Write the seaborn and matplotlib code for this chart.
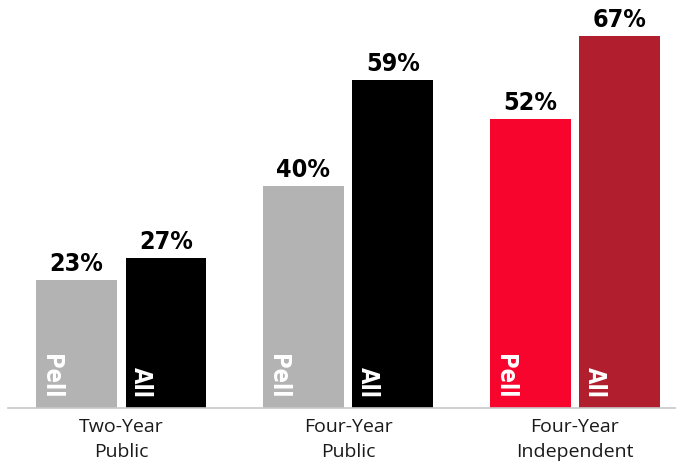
import matplotlib
matplotlib.use("Agg")
import matplotlib.pyplot as plt
import seaborn as sns
import pandas as pd

# graduation rates by sector, Pell recipients vs all students
sectors = ["Two-Year\nPublic", "Four-Year\nPublic", "Four-Year\nIndependent"]
groups = ["Pell", "All"]
pell_rates = [23, 40, 52]
all_rates = [27, 59, 67]
pell_colors = ["#b3b3b3", "#b3b3b3", "#f7052d"]
all_colors = ["#000000", "#000000", "#b11f2e"]

df = pd.DataFrame({
    "sector": sectors * 2,
    "group": ["Pell"] * 3 + ["All"] * 3,
    "rate": pell_rates + all_rates,
})

sns.set_theme(style="white")
plt.rcParams['font.family'] = ['DejaVu Sans']

fig = plt.figure(figsize=(6.76, 4.66), dpi=100)
ax = fig.add_axes([8 / 676, 58 / 466, 668 / 676, 408 / 466])

sns.barplot(data=df, x="sector", y="rate", hue="group", hue_order=groups,
            width=0.79, gap=0.1, saturation=1, legend=False, ax=ax)

for cont, cols, lab in zip(ax.containers, [pell_colors, all_colors], groups):
    for bar, c in zip(cont, cols):
        bar.set_facecolor(c)
        bar.set_edgecolor("none")
        ax.text(bar.get_x() + 0.068, 1.8, lab, rotation=-90, ha="center", va="bottom",
                color="white", fontsize=17, fontweight="bold", fontstretch="condensed")
    ax.bar_label(cont, labels=[f"{v:.0f}%" for v in cont.datavalues], padding=3,
                 fontsize=18, fontweight="bold", fontstretch="condensed", color="black")

ax.set_xlim(-0.498, 2.445)
ax.set_ylim(0, 73.5)
ax.set_xlabel("")
ax.set_ylabel("")
ax.set_yticks([])
ax.tick_params(axis="x", length=0, pad=7, labelsize=14, labelcolor="#1a1a1a",
               labelfontfamily="Open Sans")
for t in ax.get_xticklabels():
    t.set_linespacing(1.5)

for s in ["top", "left", "right"]:
    ax.spines[s].set_visible(False)
ax.spines["bottom"].set_color("#c8c8c8")
ax.spines["bottom"].set_linewidth(1.2)

fig.savefig("out.png", dpi=100)
